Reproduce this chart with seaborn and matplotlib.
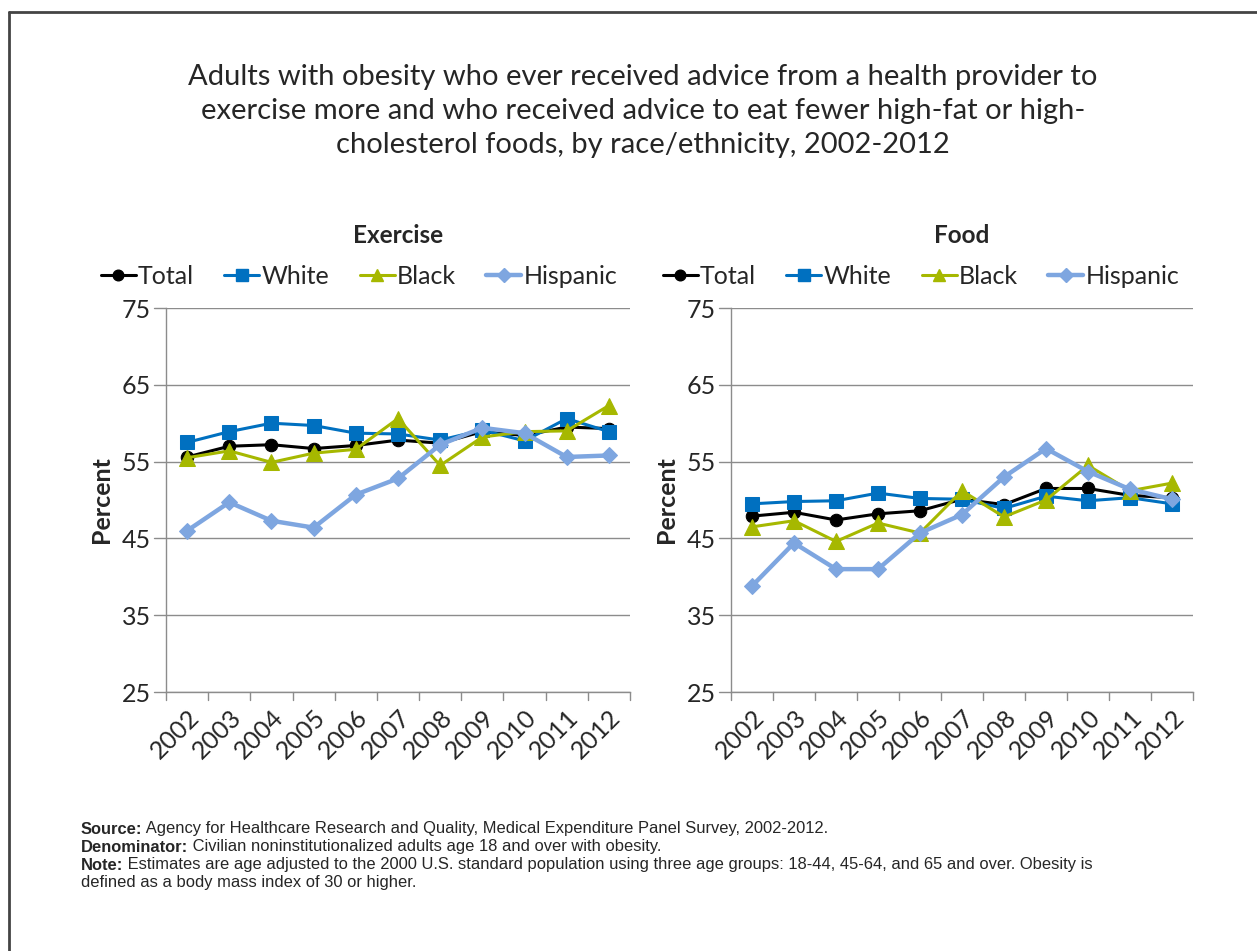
import matplotlib
matplotlib.use("Agg")
import matplotlib.pyplot as plt
import matplotlib.transforms as mtransforms
from matplotlib.lines import Line2D
import numpy as np
import pandas as pd
import seaborn as sns

# ── Data ──────────────────────────────────────────────────────────────────────
YEARS = [str(y) for y in range(2002, 2013)]
SERIES = ["Total", "White", "Black", "Hispanic"]

EXERCISE_TOTAL = [55.6, 57.0, 57.2, 56.7, 57.1, 57.8, 57.4, 58.9, 58.4, 59.5, 59.3]
EXERCISE_WHITE = [57.5, 58.9, 60.0, 59.7, 58.7, 58.6, 57.8, 59.1, 57.7, 60.6, 58.9]
EXERCISE_BLACK = [55.5, 56.4, 54.9, 56.1, 56.6, 60.6, 54.5, 58.2, 58.9, 59.0, 62.3]
EXERCISE_HISPANIC = [46.0, 49.7, 47.3, 46.4, 50.7, 52.8, 57.2, 59.4, 58.7, 55.6, 55.8]

FOOD_TOTAL = [47.9, 48.4, 47.4, 48.2, 48.6, 50.1, 49.4, 51.5, 51.5, 50.6, 50.3]
FOOD_WHITE = [49.5, 49.8, 49.9, 50.9, 50.2, 50.1, 48.9, 50.5, 49.9, 50.3, 49.5]
FOOD_BLACK = [46.5, 47.3, 44.6, 47.0, 45.7, 51.2, 47.8, 50.0, 54.5, 51.2, 52.2]
FOOD_HISPANIC = [38.8, 44.4, 41.0, 41.0, 45.7, 48.1, 53.0, 56.7, 53.7, 51.4, 50.1]

Y_TICKS = [25, 35, 45, 55, 65, 75]

TITLE = ("Adults with obesity who ever received advice from a health provider to\n"
         "exercise more and who received advice to eat fewer high-fat or high-\n"
         "cholesterol foods, by race/ethnicity, 2002-2012")

# ── Style ─────────────────────────────────────────────────────────────────────
COLORS = {"Total": "#000000", "White": "#0070C0", "Black": "#A6B800", "Hispanic": "#7EA6E0"}
MARKERS = {"Total": "o", "White": "s", "Black": "^", "Hispanic": "D"}
MSIZE = {"Total": 9, "White": 10, "Black": 11, "Hispanic": 8}
LWIDTH = {"Total": 2.2, "White": 2.2, "Black": 2.2, "Hispanic": 3.2}
GRID = "#8c8c8c"

sns.set_theme(style="white")
plt.rcParams["font.family"] = ["Lato", "DejaVu Sans"]


def make_frame(values):
    rows = []
    for name, vals in zip(SERIES, values):
        for yr, v in zip(YEARS, vals):
            rows.append({"Year": yr, "Series": name, "Value": v})
    return pd.DataFrame(rows)


def draw_panel(ax, df, title, legend_x):
    xpos = {yr: i for i, yr in enumerate(YEARS)}
    df = df.assign(x=df["Year"].map(xpos))
    for name in SERIES:
        sub = df[df["Series"] == name]
        sns.lineplot(data=sub, x="x", y="Value", ax=ax, color=COLORS[name],
                     marker=MARKERS[name], markersize=MSIZE[name],
                     markeredgecolor=COLORS[name], linewidth=LWIDTH[name],
                     legend=False)
    ax.set_xlim(-0.5, len(YEARS) - 0.5)
    ax.set_ylim(25, 75)
    ax.set_yticks(Y_TICKS)
    ax.set_yticklabels([str(t) for t in Y_TICKS], fontsize=18)
    ax.set_xticks(range(len(YEARS)))
    ax.set_xticklabels(YEARS, rotation=45, ha="right", va="top",
                       rotation_mode="anchor", fontsize=18)
    shift = mtransforms.ScaledTranslation(7 / 100, 0, ax.figure.dpi_scale_trans)
    for lab in ax.get_xticklabels():
        lab.set_transform(lab.get_transform() + shift)
    ax.tick_params(axis="x", length=0, pad=10)
    ax.tick_params(axis="y", length=0, pad=11)
    # boundary ticks on the category axis
    for b in np.arange(-0.5, len(YEARS), 1.0):
        ax.plot([b, b], [0, -0.022], transform=ax.get_xaxis_transform(),
                color=GRID, lw=1, clip_on=False)
    ax.grid(axis="y", color=GRID, lw=1)
    for t in Y_TICKS:
        ax.plot([-0.025, 0], [t, t], transform=ax.get_yaxis_transform(),
                color=GRID, lw=1, clip_on=False)
    for s in ["top", "right"]:
        ax.spines[s].set_visible(False)
    for s in ["left", "bottom"]:
        ax.spines[s].set_color(GRID)
        ax.spines[s].set_linewidth(1)
    ax.set_xlabel("")
    ax.set_ylabel("Percent", fontsize=18, fontweight="bold", labelpad=6)
    ax.text(0.5, 1.19, title, transform=ax.transAxes, ha="center", va="center",
            fontsize=17.5, fontweight="bold")
    handles = [Line2D([], [], color=COLORS[n], marker=MARKERS[n],
                      markersize=MSIZE[n] * 0.85, lw=LWIDTH[n]) for n in SERIES]
    ax.figure.legend(handles, SERIES, loc="center", ncol=4, frameon=False,
                     bbox_to_anchor=(legend_x, 1 - 276 / 951), fontsize=18,
                     handlelength=1.4, handletextpad=0.1, columnspacing=1.2)


fig = plt.figure(figsize=(12.57, 9.51), dpi=100)
ax1 = fig.add_axes([166 / 1257, 1 - 692 / 951, 464 / 1257, 384 / 951])
ax2 = fig.add_axes([731 / 1257, 1 - 692 / 951, 462 / 1257, 384 / 951])

draw_panel(ax1, make_frame([EXERCISE_TOTAL, EXERCISE_WHITE, EXERCISE_BLACK, EXERCISE_HISPANIC]),
           "Exercise", 359 / 1257)
draw_panel(ax2, make_frame([FOOD_TOTAL, FOOD_WHITE, FOOD_BLACK, FOOD_HISPANIC]),
           "Food", 921 / 1257)

fig.text(643 / 1257, 1 - 111 / 951, TITLE, ha="center", va="center",
         fontsize=21, linespacing=1.38)

# frame lines (left and top)
fig.add_artist(Line2D([9 / 1257, 9 / 1257], [0, 1 - 12 / 951], color="#444444", lw=2))
fig.add_artist(Line2D([9 / 1257, 1], [1 - 12 / 951, 1 - 12 / 951], color="#444444", lw=2))

# footnotes
FOOT = "Liberation Sans"
FOOT_SIZE = 11.9
notes = [
    ("Source:", " Agency for Healthcare Research and Quality, Medical Expenditure Panel Survey, 2002-2012."),
    ("Denominator:", " Civilian noninstitutionalized adults age 18 and over with obesity."),
    ("Note:", " Estimates are age adjusted to the 2000 U.S. standard population using three age groups: 18-44, 45-64, and 65 and over. Obesity is"),
    ("", "defined as a body mass index of 30 or higher."),
]
renderer = fig.canvas.get_renderer()
y0 = 829
for i, (bold, rest) in enumerate(notes):
    y = 1 - (y0 + i * 18) / 951
    x = 81 / 1257
    if bold:
        t = fig.text(x, y, bold, fontsize=FOOT_SIZE, fontweight="bold", family=FOOT, va="center")
        bb = t.get_window_extent(renderer)
        x = bb.x1 / fig.bbox.width
    fig.text(x, y, rest, fontsize=FOOT_SIZE, family=FOOT, va="center")

fig.savefig("out.png", dpi=100)
